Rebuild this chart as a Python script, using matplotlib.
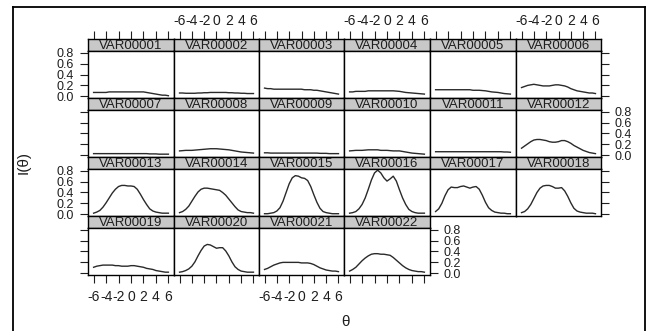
import matplotlib
matplotlib.use("Agg")
import matplotlib.pyplot as plt
from matplotlib.lines import Line2D

plt.rcParams["font.family"] = ["Liberation Sans", "DejaVu Sans"]

theta = [-6.0, -5.5, -5.0, -4.5, -4.0, -3.5, -3.0, -2.5, -2.0, -1.5, -1.0, -0.5,
         0.0, 0.5, 1.0, 1.5, 2.0, 2.5, 3.0, 3.5, 4.0, 4.5, 5.0, 5.5, 6.0]

var01 = [0.07, 0.07, 0.07, 0.07, 0.07, 0.08, 0.08, 0.08, 0.08, 0.08, 0.08, 0.08, 0.08,
         0.08, 0.08, 0.08, 0.08, 0.07, 0.06, 0.05, 0.04, 0.03, 0.02, 0.02, 0.01]
var02 = [0.06, 0.06, 0.055, 0.055, 0.055, 0.055, 0.06, 0.06, 0.065, 0.065, 0.07, 0.07, 0.07,
         0.07, 0.07, 0.07, 0.065, 0.065, 0.06, 0.06, 0.055, 0.055, 0.05, 0.05, 0.05]
var03 = [0.15, 0.14, 0.14, 0.13, 0.13, 0.13, 0.13, 0.13, 0.13, 0.13, 0.13, 0.13, 0.13,
         0.12, 0.12, 0.12, 0.11, 0.11, 0.10, 0.09, 0.08, 0.07, 0.06, 0.05, 0.04]
var04 = [0.08, 0.08, 0.09, 0.09, 0.09, 0.09, 0.10, 0.10, 0.10, 0.10, 0.10, 0.10, 0.10,
         0.10, 0.10, 0.095, 0.09, 0.08, 0.07, 0.065, 0.06, 0.055, 0.05, 0.045, 0.04]
var05 = [0.12, 0.12, 0.12, 0.12, 0.12, 0.12, 0.12, 0.12, 0.12, 0.12, 0.12, 0.12, 0.11,
         0.11, 0.11, 0.105, 0.10, 0.09, 0.08, 0.075, 0.07, 0.06, 0.05, 0.045, 0.04]
var06 = [0.16, 0.18, 0.20, 0.21, 0.22, 0.21, 0.20, 0.19, 0.19, 0.19, 0.20, 0.21, 0.21,
         0.20, 0.19, 0.17, 0.14, 0.12, 0.10, 0.09, 0.08, 0.07, 0.06, 0.06, 0.05]
var07 = [0.03, 0.03, 0.03, 0.03, 0.03, 0.03, 0.03, 0.03, 0.03, 0.03, 0.03, 0.03, 0.03,
         0.03, 0.03, 0.03, 0.03, 0.03, 0.025, 0.025, 0.025, 0.02, 0.02, 0.02, 0.02]
var08 = [0.08, 0.085, 0.09, 0.09, 0.09, 0.095, 0.10, 0.105, 0.11, 0.115, 0.12, 0.12, 0.12,
         0.115, 0.11, 0.105, 0.10, 0.09, 0.08, 0.07, 0.06, 0.055, 0.05, 0.045, 0.04]
var09 = [0.045, 0.045, 0.04, 0.04, 0.04, 0.04, 0.04, 0.04, 0.04, 0.04, 0.04, 0.04, 0.04,
         0.04, 0.04, 0.04, 0.04, 0.04, 0.035, 0.035, 0.035, 0.03, 0.03, 0.03, 0.03]
var10 = [0.08, 0.085, 0.09, 0.09, 0.09, 0.095, 0.10, 0.10, 0.10, 0.10, 0.09, 0.09, 0.09,
         0.085, 0.08, 0.08, 0.08, 0.07, 0.06, 0.05, 0.04, 0.035, 0.03, 0.025, 0.02]
var11 = [0.065, 0.065, 0.065, 0.065, 0.065, 0.065, 0.065, 0.065, 0.065, 0.065, 0.065, 0.065, 0.065,
         0.065, 0.065, 0.065, 0.065, 0.065, 0.065, 0.065, 0.065, 0.065, 0.06, 0.06, 0.055]
var12 = [0.13, 0.17, 0.21, 0.25, 0.28, 0.29, 0.29, 0.28, 0.27, 0.25, 0.24, 0.24, 0.25,
         0.27, 0.27, 0.25, 0.22, 0.18, 0.15, 0.12, 0.09, 0.07, 0.05, 0.04, 0.03]
var13 = [0.02, 0.04, 0.07, 0.13, 0.21, 0.30, 0.39, 0.46, 0.51, 0.53, 0.53, 0.52, 0.52,
         0.51, 0.46, 0.37, 0.27, 0.18, 0.10, 0.06, 0.04, 0.03, 0.02, 0.02, 0.02]
var14 = [0.03, 0.05, 0.09, 0.15, 0.24, 0.33, 0.41, 0.46, 0.48, 0.48, 0.47, 0.46, 0.45,
         0.44, 0.40, 0.35, 0.28, 0.21, 0.14, 0.08, 0.05, 0.04, 0.03, 0.03, 0.02]
var15 = [0.01, 0.01, 0.02, 0.03, 0.06, 0.12, 0.24, 0.40, 0.56, 0.67, 0.71, 0.70, 0.67,
         0.66, 0.62, 0.51, 0.36, 0.22, 0.11, 0.05, 0.03, 0.02, 0.01, 0.01, 0.01]
var16 = [0.02, 0.03, 0.05, 0.10, 0.18, 0.30, 0.46, 0.63, 0.76, 0.81, 0.76, 0.67, 0.61,
         0.65, 0.70, 0.61, 0.45, 0.30, 0.18, 0.09, 0.05, 0.03, 0.02, 0.02, 0.02]
var17 = [0.05, 0.10, 0.20, 0.34, 0.45, 0.50, 0.49, 0.49, 0.51, 0.52, 0.50, 0.48, 0.50,
         0.51, 0.46, 0.35, 0.22, 0.12, 0.07, 0.04, 0.03, 0.02, 0.02, 0.01, 0.01]
var18 = [0.03, 0.05, 0.10, 0.18, 0.29, 0.40, 0.48, 0.52, 0.53, 0.53, 0.51, 0.48, 0.48,
         0.49, 0.43, 0.33, 0.21, 0.11, 0.06, 0.04, 0.03, 0.02, 0.02, 0.02, 0.01]
var19 = [0.11, 0.13, 0.14, 0.15, 0.15, 0.15, 0.15, 0.14, 0.14, 0.13, 0.13, 0.13, 0.14,
         0.14, 0.13, 0.12, 0.11, 0.09, 0.08, 0.07, 0.05, 0.04, 0.03, 0.02, 0.02]
var20 = [0.02, 0.03, 0.05, 0.08, 0.13, 0.21, 0.32, 0.42, 0.50, 0.53, 0.52, 0.49, 0.46,
         0.47, 0.47, 0.41, 0.32, 0.21, 0.12, 0.07, 0.04, 0.03, 0.02, 0.02, 0.02]
var21 = [0.07, 0.09, 0.12, 0.15, 0.17, 0.19, 0.20, 0.20, 0.20, 0.20, 0.20, 0.20, 0.19,
         0.19, 0.19, 0.18, 0.16, 0.13, 0.10, 0.08, 0.06, 0.05, 0.04, 0.04, 0.03]
var22 = [0.04, 0.07, 0.11, 0.17, 0.23, 0.28, 0.32, 0.35, 0.36, 0.36, 0.35, 0.35, 0.34,
         0.33, 0.29, 0.24, 0.19, 0.14, 0.10, 0.07, 0.05, 0.04, 0.03, 0.03, 0.02]

curves = [var01, var02, var03, var04, var05, var06, var07, var08, var09, var10, var11,
          var12, var13, var14, var15, var16, var17, var18, var19, var20, var21, var22]
names = ["VAR%05d" % (i + 1) for i in range(len(curves))]

x_ticks = [-6, -4, -2, 0, 2, 4, 6]
x_tick_labels = ["-6", "-4", "-2", "0", "2", "4", "6"]
y_ticks = [0.0, 0.2, 0.4, 0.6, 0.8]
y_tick_labels = ["0.0", "0.2", "0.4", "0.6", "0.8"]

W, H = 649, 331
fig = plt.figure(figsize=(W / 100, H / 100), dpi=100)


def fx(px):
    return px / W


def fy(py):
    return 1 - py / H


left, col_w = 88, 85.5
top, row_h, strip_h = 39, 59, 12
ncol = 6
text_col = "#1e1e1e"
tick_kw = dict(direction="out", length=5.5, width=0.8, colors=text_col)

for i, (name, vals) in enumerate(zip(names, curves)):
    r, c = divmod(i, ncol)
    # snap panel edges to whole pixels so shared borders look even
    x0 = round(left + c * col_w)
    x1 = round(left + (c + 1) * col_w)
    w = x1 - x0
    y_top = top + r * row_h

    sax = fig.add_axes([fx(x0), fy(y_top + strip_h), w / W, strip_h / H])
    sax.set_facecolor("#c8c8c8")
    sax.set_xlim(-6.9, 6.9)
    sax.set_ylim(0, 1)
    sax.set_yticks([])
    sax.text(0, 0.42, name, ha="center", va="center", fontsize=9.5, color=text_col)
    for sp in sax.spines.values():
        sp.set_linewidth(1.0)
    if r == 0:
        sax.xaxis.tick_top()
        sax.set_xticks(x_ticks)
        sax.set_xticklabels(x_tick_labels if c % 2 == 1 else [])
        sax.tick_params(axis="x", labelsize=10, pad=2.5, **tick_kw)
    else:
        sax.set_xticks([])

    ax = fig.add_axes([fx(x0), fy(y_top + row_h), w / W, (row_h - strip_h) / H])
    ax.plot(theta, vals, color="#2a2a2a", lw=1.0)
    ax.set_xlim(-6.9, 6.9)
    ax.set_ylim(-0.032, 0.832)
    for sp in ax.spines.values():
        sp.set_linewidth(1.0)

    last_in_row = (c == ncol - 1) or (i == len(curves) - 1)
    bottom_row = i >= len(curves) - 4

    ax.set_xticks(x_ticks)
    ax.set_xticklabels(x_tick_labels if (bottom_row and c % 2 == 0) else [])
    ax.tick_params(axis="x", bottom=bottom_row, top=False, labelsize=10, pad=5, **tick_kw)

    ax.set_yticks(y_ticks)
    ax.set_yticklabels(y_tick_labels)
    ax.tick_params(axis="y", left=(c == 0), right=last_in_row,
                   labelleft=(c == 0 and r % 2 == 0),
                   labelright=(last_in_row and r % 2 == 1),
                   labelsize=9, pad=4.5, **tick_kw)

fig.text(fx(24), fy(163), "I(θ)", rotation=90, ha="center", va="center",
         fontsize=11, color=text_col)
fig.text(fx(345), fy(322), "θ", ha="center", va="center", fontsize=11, color=text_col)

# outer frame of the scanned page
for xs, ys in [([13, 13], [7, 335]), ([13, 645], [7, 7]), ([645, 645], [7, 335])]:
    fig.add_artist(Line2D([fx(x) for x in xs], [fy(y) for y in ys],
                          transform=fig.transFigure, color="black", lw=1.3))

fig.savefig("out.png", dpi=100)
